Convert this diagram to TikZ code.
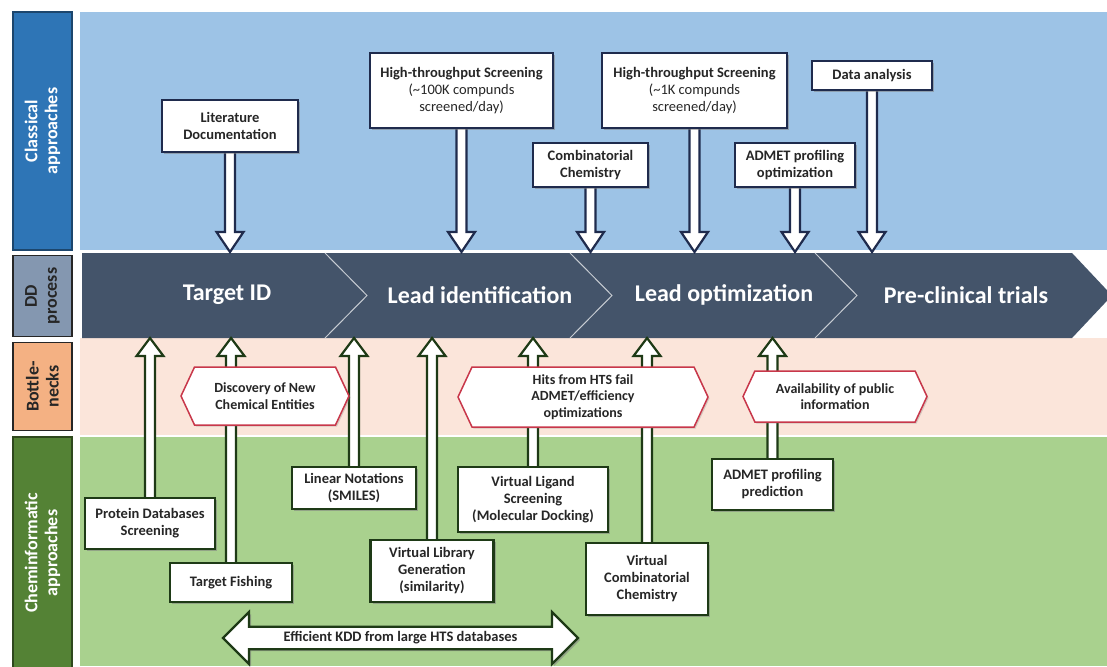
\documentclass[tikz,border=0pt]{standalone}
\usepackage{fontspec}
\setmainfont{Carlito}
\usetikzlibrary{shapes.symbols,shapes.arrows,shadows,calc}
\pgfdeclarelayer{bg}
\pgfdeclarelayer{mid}
\pgfsetlayers{bg,mid,main}

\definecolor{skyband}{HTML}{9DC3E6}
\definecolor{ddband}{HTML}{44546A}
\definecolor{blushband}{HTML}{FBE5DA}
\definecolor{leafband}{HTML}{A9D18E}
\definecolor{classfill}{HTML}{2E75B6}
\definecolor{ddfill}{HTML}{8497B0}
\definecolor{bnfill}{HTML}{F4B183}
\definecolor{chemfill}{HTML}{548235}
\definecolor{navyline}{HTML}{1F2B4D}
\definecolor{greenline}{HTML}{1E3A16}
\definecolor{hexline}{HTML}{C8374A}

\begin{document}
\begin{tikzpicture}[x=1pt, y=-1pt,
    lbl/.style={rotate=90, line width=1.6pt, align=center, inner sep=0pt,
        minimum height=59pt, font=\fontsize{18}{20}\selectfont\bfseries},
    phase/.style={text=white, font=\fontsize{24}{26}\selectfont\bfseries},
    topbox/.style={draw=navyline, line width=2.2pt, fill=white, align=center, inner sep=2pt,
        text=black!85, font=\fontsize{14.5}{17}\selectfont\bfseries,
        drop shadow={shadow xshift=2pt, shadow yshift=-2pt, opacity=0.55}},
    lowbox/.style={topbox, draw=greenline},
    hexnode/.style={signal, signal to=west and east, signal pointer angle=130,
        draw=hexline, line width=1.5pt, fill=white, align=center, inner sep=1pt,
        text=black!85, font=\fontsize{14}{16.5}\selectfont\bfseries,
        drop shadow={shadow xshift=1.5pt, shadow yshift=-1.5pt, opacity=0.3}},
    downblk/.style={draw=navyline, fill=white, line width=2.2pt, line join=miter,
        to path={let \p1=(\tikztostart), \p2=(\tikztotarget) in
            (\x1-5pt,\y1) -- (\x1-5pt,\y2+20pt) -- (\x1-13.5pt,\y2+20pt) -- (\x1,\y2)
            -- (\x1+13.5pt,\y2+20pt) -- (\x1+5pt,\y2+20pt) -- (\x1+5pt,\y1)}},
    upblk/.style={draw=greenline, fill=white, line width=2.2pt, line join=miter,
        to path={let \p1=(\tikztostart), \p2=(\tikztotarget) in
            (\x1-5pt,\y1) -- (\x1-5pt,\y2-18pt) -- (\x1-13.5pt,\y2-18pt) -- (\x1,\y2)
            -- (\x1+13.5pt,\y2-18pt) -- (\x1+5pt,\y2-18pt) -- (\x1+5pt,\y1)}}]
    \useasboundingbox (0,0) rectangle (1107,666);

    % Background bands
    \begin{pgfonlayer}{bg}
        \fill[white] (0,0) rectangle (1107,666);
        \fill[skyband] (80,12) rectangle (1107,250);
        \fill[blushband] (80,338) rectangle (1107,435);
        \fill[leafband] (80,437) rectangle (1107,666);
        \fill[ddband] (82,253) -- (1072,253) -- (1112,295.5) -- (1072,338) -- (82,338) -- cycle;
        \foreach \cx in {325,570,815}
            \draw[white!70!ddband, line width=1pt] (\cx,253) -- (\cx+42,295.5) -- (\cx,338);
    \end{pgfonlayer}
    \coordinate (ddt) at (0,252);
    \coordinate (ddb) at (0,338);

    % Row labels
    \node[lbl, draw=classfill!60!black, fill=classfill, text=white, minimum width=238pt] (classical) at (42.5,131) {Classical\\approaches};
    \node[lbl, draw=black!85, fill=ddfill, text=black!85, minimum width=81pt] (ddproc) at (42.5,296) {DD\\process};
    \node[lbl, draw=black!85, fill=bnfill, text=black!85, minimum width=88pt] (bneck) at (42.5,386.5) {Bottle-\\necks};
    \node[lbl, draw=chemfill!55!black, fill=chemfill, text=white, minimum width=232pt] (chem) at (42.5,553) {Cheminformatic\\approaches};

    % DD process phases
    \node[phase] (tid) at (227,295) {Target ID};
    \node[phase] (lid) at (480,295) {Lead identification};
    \node[phase] (lopt) at (724,295) {Lead optimization};
    \node[phase] (pct) at (966,295) {Pre-clinical trials};

    % Classical approaches
    \node[topbox, minimum width=136pt, minimum height=52pt] (lit) at (230,126) {Literature\\Documentation};
    \node[topbox, minimum width=183pt, minimum height=75pt] (htsa) at (461.5,90.5) {High-throughput Screening\\{\mdseries (\textasciitilde100K compunds}\\{\mdseries screened/day)}};
    \node[topbox, minimum width=115pt, minimum height=44pt] (comb) at (590.5,165) {Combinatorial\\Chemistry};
    \node[topbox, minimum width=185pt, minimum height=75pt] (htsb) at (694.5,90.5) {High-throughput Screening\\{\mdseries (\textasciitilde1K compunds}\\{\mdseries screened/day)}};
    \node[topbox, minimum width=120pt, minimum height=44pt] (admopt) at (795,165) {ADMET profiling\\optimization};
    \node[topbox, minimum width=120pt, minimum height=29pt] (data) at (872,75.5) {Data analysis};

    % Cheminformatic approaches
    \node[lowbox, minimum width=130pt, minimum height=51pt] (prot) at (150,523.5) {Protein Databases\\Screening};
    \node[lowbox, minimum width=122pt, minimum height=39pt] (fish) at (231,582.5) {Target Fishing};
    \node[lowbox, minimum width=124pt, minimum height=42pt] (smiles) at (354,488) {Linear Notations\\(SMILES)};
    \node[lowbox, minimum width=123pt, minimum height=62pt] (vlib) at (432,571) {Virtual Library\\Generation\\(similarity)};
    \node[lowbox, minimum width=150pt, minimum height=65pt] (vlig) at (533,499.5) {Virtual Ligand\\Screening\\(Molecular Docking)};
    \node[lowbox, minimum width=122pt, minimum height=72pt] (vcomb) at (647,579) {Virtual\\Combinatorial\\Chemistry};
    \node[lowbox, minimum width=121pt, minimum height=51pt] (admpred) at (772.5,484.5) {ADMET profiling\\prediction};
    \node[double arrow, double arrow head extend=12.5pt, double arrow head indent=0pt,
        draw=greenline, line width=2.2pt, fill=white, text=black!85, inner sep=2pt,
        minimum height=355pt, minimum width=52pt, font=\fontsize{14.5}{17}\selectfont\bfseries,
        drop shadow={shadow xshift=2pt, shadow yshift=-2pt, opacity=0.55}] (kdd) at (400.5,638) {Efficient KDD from large HTS databases};

    % Block arrows
    \begin{pgfonlayer}{mid}
        \foreach \src in {lit,htsa,comb,htsb,admopt,data}
            \draw[downblk] (\src.south) to (\src.south |- ddt);
        \foreach \src in {prot,fish,smiles,vlib,vlig,vcomb,admpred}
            \draw[upblk] (\src.north) to (\src.north |- ddb);
    \end{pgfonlayer}

    % Bottlenecks
    \node[hexnode, minimum width=168pt, minimum height=58pt] (nce) at (265,396) {Discovery of New\\Chemical Entities};
    \node[hexnode, minimum width=250pt, minimum height=60pt] (hits) at (583,397) {Hits from HTS fail\\ADMET/efficiency\\optimizations};
    \node[hexnode, minimum width=184pt, minimum height=51pt] (avail) at (835,396.5) {Availability of public\\information};
\end{tikzpicture}
\end{document}
